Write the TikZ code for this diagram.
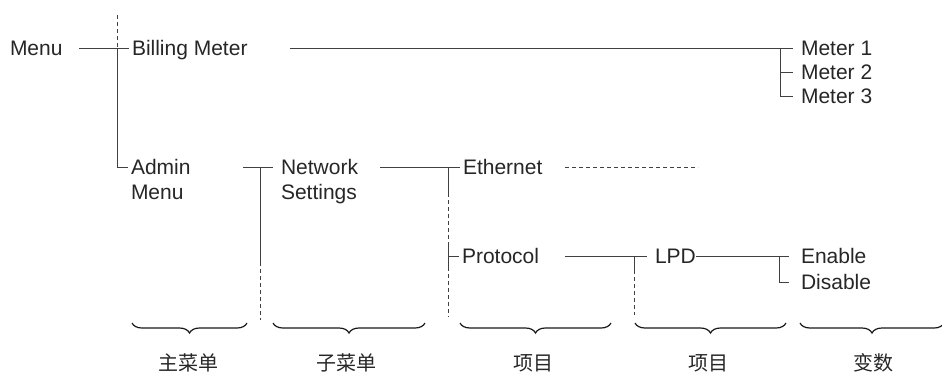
\documentclass[tikz,border=0pt]{standalone}
\usepackage{fontspec}
\setmainfont{Liberation Sans}
\newfontfamily\cjk{Noto Sans CJK SC}
\usetikzlibrary{decorations.pathreplacing}

\tikzset{
  txt/.style={font=\fontsize{21}{25}\selectfont, text=black!85, inner sep=0pt,
    outer sep=3pt, text height=15pt, text depth=0pt, anchor=west},
  cn/.style={font=\cjk\fontsize{20}{24}\selectfont, text=black!85, inner sep=0pt},
  ln/.style={draw=black!75, line width=0.9pt},
  dsh/.style={ln, dash pattern=on 4pt off 3pt},
  brc/.style={decorate, decoration={brace, mirror, amplitude=10pt},
    line width=1.2pt, draw=black!90},
}

\begin{document}
\begin{tikzpicture}[x=1pt,y=-1pt]
\useasboundingbox (0,0) rectangle (942,376);
% menu tree
\node[txt] (menu) at (7,48) {Menu};
\node[txt] (bill) at (129,48) {Billing Meter};
\node[txt] (m1) at (798,48) {Meter 1};
\node[txt] (m2) at (798,72) {Meter 2};
\node[txt] (m3) at (798,96) {Meter 3};
\node[txt] (admin) at (128,167) {\begin{tabular}[t]{@{}l@{}}Admin\\Menu\end{tabular}};
\node[txt] (net) at (278,167) {\begin{tabular}[t]{@{}l@{}}Network\\Settings\end{tabular}};
\node[txt] (eth) at (460,167) {Ethernet};
\node[txt] (proto) at (459,256) {Protocol};
\node[txt] (lpd) at (652,256) {LPD};
\node[txt] (en) at (798,256) {Enable};
\node[txt] (dis) at (798,282) {Disable};

\coordinate (j0) at (117,15);
\coordinate (j1) at (117,48);
\coordinate (j2) at (117,167);
\coordinate (a0) at (79,48);
\draw[dsh] (j0) -- (j1);
\draw[ln] (a0) -- (bill.west);
\draw[ln] (j1) -- (j2) -- (admin.west);

\coordinate (b0) at (290,48);
\coordinate (k1) at (780,48);
\coordinate (k2) at (780,72);
\coordinate (k3) at (780,96);
\draw[ln] (b0) -- ([xshift=-5pt]m1.west);
\draw[ln] (k1) -- (k3) -- ([xshift=-5pt]m3.west);
\draw[ln] (k2) -- ([xshift=-5pt]m2.west);

\coordinate (a1) at (243,167);
\coordinate (n0) at (260,167);
\coordinate (n1) at (260,262);
\coordinate (n2) at (260,320);
\draw[ln] (a1) -- ([xshift=-5pt]net.west);
\draw[ln] (n0) -- (n1);
\draw[dsh] (n1) -- (n2);

\coordinate (e0) at (380,167);
\coordinate (v0) at (448,167);
\coordinate (v1) at (448,193);
\coordinate (v2) at (448,243);
\coordinate (v3) at (448,267);
\coordinate (v4) at (448,317);
\coordinate (vp) at (448,256);
\draw[ln] (e0) -- (eth.west);
\draw[ln] (v0) -- (v1);
\draw[dsh] (v1) -- (v2);
\draw[ln] (v2) -- (v3);
\draw[dsh] (v3) -- (v4);
\draw[ln] (vp) -- (proto.west);

\coordinate (d0) at (565,167);
\coordinate (d1) at (698,167);
\draw[dsh] (d0) -- (d1);

\coordinate (p0) at (565,256);
\coordinate (q0) at (634,256);
\coordinate (q1) at (634,270);
\coordinate (q2) at (634,315);
\draw[ln] (p0) -- ([xshift=-5pt]lpd.west);
\draw[ln] (q0) -- (q1);
\draw[dsh] (q1) -- (q2);

\coordinate (r0) at (779,256);
\coordinate (r1) at (779,282);
\draw[ln] ([xshift=-3pt]lpd.east) -- ([xshift=-9pt]en.west);
\draw[ln] (r0) -- (r1) -- ([xshift=-9pt]dis.west);

% braces and column labels
\draw[brc] (132,323) -- (247,323);
\draw[brc] (273,323) -- (425,323);
\draw[brc] (460,323) -- (611,323);
\draw[brc] (635,323) -- (786,323);
\draw[brc] (800,323) -- (944,323);
\node[cn] (c1) at (188,363) {主菜单};
\node[cn] (c2) at (346,363) {子菜单};
\node[cn] (c3) at (533,363) {项目};
\node[cn] (c4) at (708,363) {项目};
\node[cn] (c5) at (873,363) {变数};
\end{tikzpicture}
\end{document}
